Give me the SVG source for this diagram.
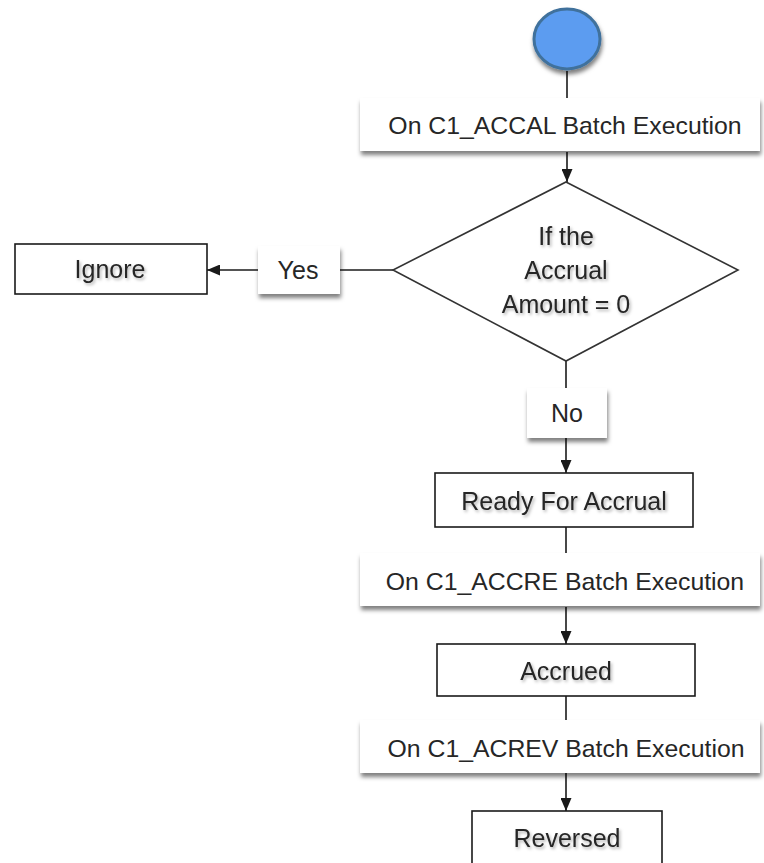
<svg xmlns="http://www.w3.org/2000/svg" width="764" height="863" viewBox="0 0 764 863">
  <style>
    .box { fill: #ffffff; stroke: #1a1a1a; stroke-width: 1.6; }
    .lbl { fill: #ffffff; }
    .t { font-family: "Liberation Sans", Arial, sans-serif; font-size: 25px; fill: #262626; text-anchor: middle; }
    .tl { font-family: "Liberation Sans", Arial, sans-serif; font-size: 24.8px; fill: #262626; text-anchor: middle; }
    .conn { stroke: #1a1a1a; stroke-width: 1.6; fill: none; }
  </style>
  <defs>
    <filter id="shadow" x="-10%" y="-20%" width="130%" height="160%">
      <feDropShadow dx="1" dy="4" stdDeviation="2" flood-color="#000000" flood-opacity="0.5"/>
    </filter>
    <filter id="tshadow" x="-10%" y="-30%" width="130%" height="170%">
      <feDropShadow dx="1.5" dy="2" stdDeviation="1.5" flood-color="#000000" flood-opacity="0.3"/>
    </filter>
    <marker id="arrow" viewBox="0 0 13 11" refX="13" refY="5.5" markerWidth="13" markerHeight="11" markerUnits="userSpaceOnUse" orient="auto">
      <path d="M0,0 L13,5.5 L0,11 Z" fill="#1a1a1a"/>
    </marker>
  </defs>

  <g id="connectors">
    <line class="conn" x1="567" y1="71" x2="567" y2="98"/>
    <line class="conn" x1="567" y1="152" x2="567" y2="182" marker-end="url(#arrow)"/>
    <line class="conn" x1="393" y1="270" x2="340" y2="270"/>
    <line class="conn" x1="258" y1="270" x2="207" y2="270" marker-end="url(#arrow)"/>
    <line class="conn" x1="566" y1="361" x2="566" y2="388"/>
    <line class="conn" x1="566" y1="438" x2="566" y2="473" marker-end="url(#arrow)"/>
    <line class="conn" x1="566" y1="527" x2="566" y2="553"/>
    <line class="conn" x1="566" y1="607" x2="566" y2="644" marker-end="url(#arrow)"/>
    <line class="conn" x1="566" y1="696" x2="566" y2="720"/>
    <line class="conn" x1="566" y1="773" x2="566" y2="811" marker-end="url(#arrow)"/>
  </g>

  <g id="start">
    <ellipse cx="567" cy="39" rx="33" ry="30" fill="#5b9cf0" stroke="#41719c" stroke-width="3" filter="url(#shadow)"/>
  </g>

  <g id="label-accal">
    <rect class="lbl" x="360" y="98" width="400" height="53" filter="url(#shadow)"/>
    <text class="tl" x="565" y="134">On C1_ACCAL Batch Execution</text>
  </g>

  <g id="decision">
    <polygon points="566,182 738,270 566,361 393,270" fill="#ffffff" stroke="#333333" stroke-width="1.6"/>
    <text class="t" x="566" y="245" filter="url(#tshadow)">If the</text>
    <text class="t" x="566" y="279" filter="url(#tshadow)">Accrual</text>
    <text class="t" x="566" y="313" filter="url(#tshadow)">Amount = 0</text>
  </g>

  <g id="label-yes">
    <rect class="lbl" x="258" y="246" width="82" height="48" filter="url(#shadow)"/>
    <text class="t" x="298" y="279">Yes</text>
  </g>

  <g id="ignore">
    <rect class="box" x="15" y="244" width="192" height="50"/>
    <text class="t" x="110" y="278" filter="url(#tshadow)">Ignore</text>
  </g>

  <g id="label-no">
    <rect class="lbl" x="527" y="388" width="80" height="50" filter="url(#shadow)"/>
    <text class="t" x="567" y="422">No</text>
  </g>

  <g id="ready">
    <rect class="box" x="435" y="473" width="258" height="54"/>
    <text class="t" x="564" y="510" filter="url(#tshadow)">Ready For Accrual</text>
  </g>

  <g id="label-accre">
    <rect class="lbl" x="360" y="553" width="400" height="53" filter="url(#shadow)"/>
    <text class="tl" x="565" y="590">On C1_ACCRE Batch Execution</text>
  </g>

  <g id="accrued">
    <rect class="box" x="437" y="644" width="258" height="52"/>
    <text class="t" x="566" y="680" filter="url(#tshadow)">Accrued</text>
  </g>

  <g id="label-acrev">
    <rect class="lbl" x="360" y="720" width="400" height="53" filter="url(#shadow)"/>
    <text class="tl" x="566" y="757">On C1_ACREV Batch Execution</text>
  </g>

  <g id="reversed">
    <rect class="box" x="472" y="811" width="190" height="60"/>
    <text class="t" x="567" y="847" filter="url(#tshadow)">Reversed</text>
  </g>
</svg>
